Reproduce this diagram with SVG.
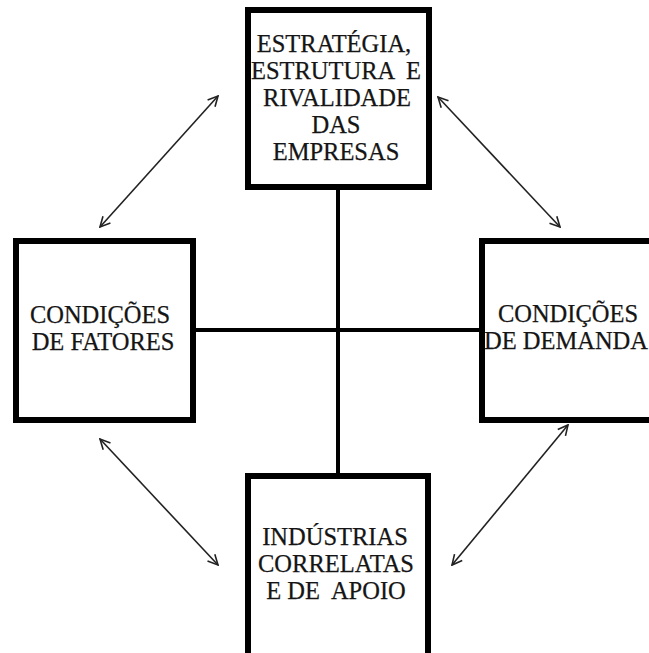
<svg xmlns="http://www.w3.org/2000/svg" width="649" height="653" viewBox="0 0 649 653">
<style>
.box{fill:#fff;stroke:#000;stroke-width:6}
.t{font-family:"Liberation Serif","Times New Roman",serif;font-size:24.5px;fill:#151515;stroke:#151515;stroke-width:0.25;text-anchor:middle}
.cross{stroke:#000;stroke-width:4;fill:none}
.arr{stroke:#222;stroke-width:1.6;fill:none;marker-start:url(#ah);marker-end:url(#ah)}
</style>
<defs>
<marker id="ah" viewBox="0 0 12 12" refX="11" refY="6" markerWidth="12" markerHeight="12" markerUnits="userSpaceOnUse" orient="auto-start-reverse">
<path d="M1,1 L11,6 L1,11" fill="none" stroke="#222" stroke-width="1.6"/>
</marker>
</defs>
<rect width="649" height="653" fill="#fff"/>
<g id="connectors">
<line class="cross" x1="338" y1="187" x2="338" y2="476"/>
<line class="cross" x1="193" y1="330" x2="482" y2="330"/>
<line class="arr" x1="218" y1="96" x2="100" y2="227"/>
<line class="arr" x1="438" y1="97" x2="560" y2="227"/>
<line class="arr" x1="100" y1="439" x2="218" y2="565"/>
<line class="arr" x1="568" y1="425" x2="452" y2="565"/>
</g>
<g id="estrategia">
<rect class="box" x="248" y="10" width="181" height="177"/>
<text class="t" x="334" y="52">ESTRATÉGIA,</text>
<text class="t" x="336" y="79" xml:space="preserve">ESTRUTURA  E</text>
<text class="t" x="337" y="106">RIVALIDADE</text>
<text class="t" x="336" y="133">DAS</text>
<text class="t" x="336" y="160">EMPRESAS</text>
</g>
<g id="fatores">
<rect class="box" x="16" y="241" width="177" height="179"/>
<text class="t" x="100" y="323">CONDIÇÕES</text>
<text class="t" x="103" y="350">DE FATORES</text>
</g>
<g id="demanda">
<rect class="box" x="482" y="241" width="180" height="179"/>
<text class="t" x="568" y="322">CONDIÇÕES</text>
<text class="t" x="566" y="349">DE DEMANDA</text>
</g>
<g id="industrias">
<rect class="box" x="248" y="476" width="180" height="190"/>
<text class="t" x="335" y="545">INDÚSTRIAS</text>
<text class="t" x="336" y="572">CORRELATAS</text>
<text class="t" x="336" y="599" xml:space="preserve">E DE  APOIO</text>
</g>
</svg>
